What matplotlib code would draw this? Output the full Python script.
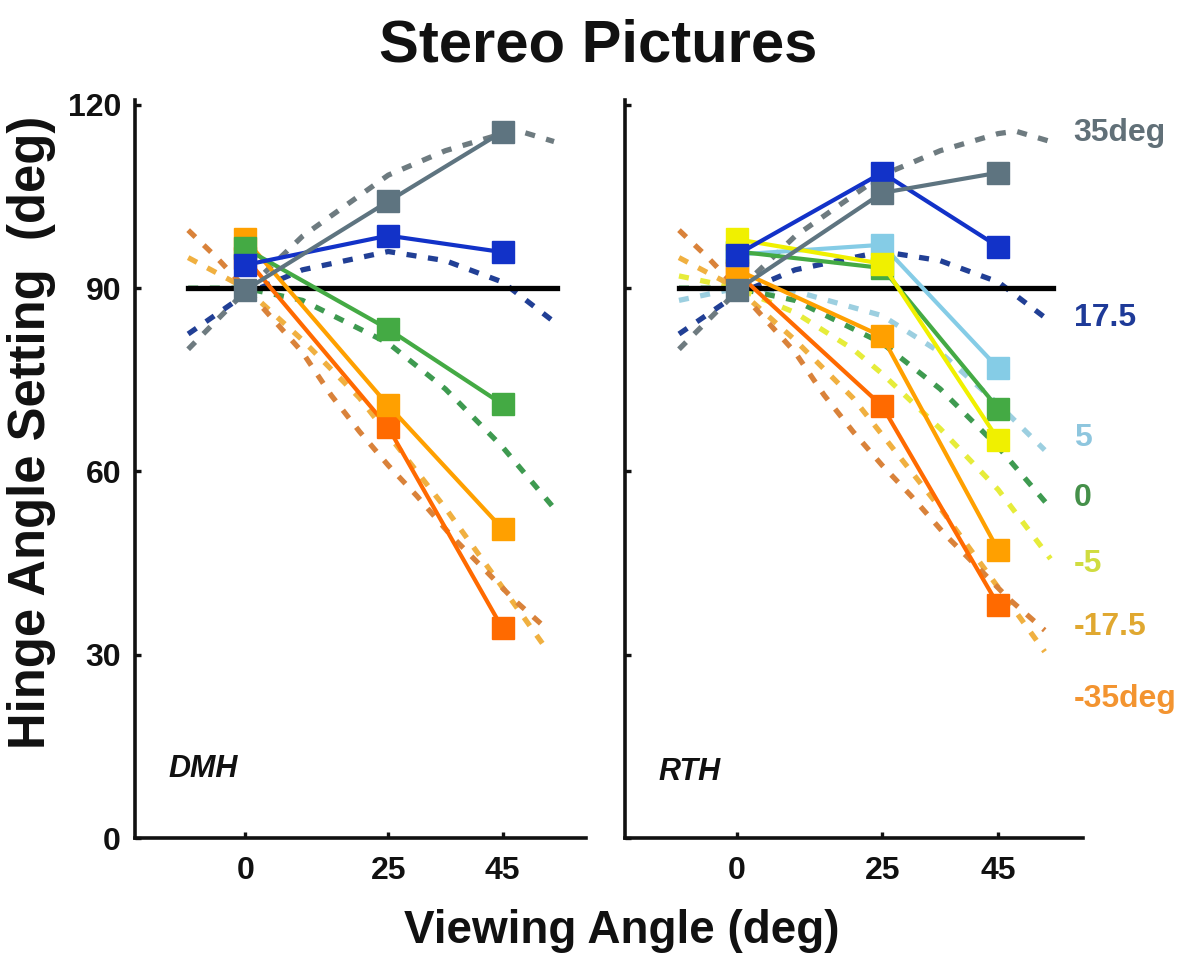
import matplotlib
matplotlib.use("Agg")
import matplotlib.pyplot as plt

plt.rcParams['font.family'] = ['Liberation Sans', 'DejaVu Sans']
plt.rcParams['font.weight'] = 'bold'

# ---------------- data ----------------
view_angles = [0, 25, 45]

# DMH observed settings (solid lines)
dmh_35 = [89.7, 104.2, 115.6]
dmh_17 = [93.8, 98.6, 95.9]
dmh_0 = [96.5, 83.3, 71.0]
dmh_m17 = [98.0, 70.8, 50.6]
dmh_m35 = [95.0, 67.2, 34.3]

# RTH observed settings (solid lines)
rth_35 = [89.7, 105.6, 108.9]
rth_17 = [95.5, 108.9, 96.8]
rth_5 = [95.5, 97.1, 76.9]
rth_0 = [96.0, 93.3, 70.3]
rth_m5 = [98.0, 94.0, 65.2]
rth_m17 = [93.0, 82.1, 47.1]
rth_m35 = [92.5, 70.7, 38.1]

# model predictions (dashed curves)
pred_35_x = [-10, 0, 10, 25, 35, 45, 48, 54]
pred_35_y = [80, 89.5, 98.5, 108.5, 112.5, 115.3, 115.7, 114]
pred_17_x = [-10, 0, 10, 25, 35, 45, 54]
pred_17_y = [82.5, 89, 93, 96, 94.5, 91, 84.5]
pred_5_x = [-10, 0, 10, 17.5, 25, 35, 45, 53]
pred_5_y = [88, 90, 89.5, 87.5, 85.5, 79.5, 71, 63.5]
pred_0_x = [-10, 0, 10, 25, 35, 45, 54]
pred_0_y = [90, 90, 88, 81, 73.5, 64, 54]
pred_m5_x = [-10, 0, 10, 20, 25, 35, 45, 54]
pred_m5_y = [92, 90, 86, 80, 76, 67, 57, 45.7]
pred_m17_x = [-10, 0, 10, 20, 25, 30, 35, 40, 45, 53]
pred_m17_y = [95, 90, 81.5, 72, 66, 60, 54, 47.5, 41, 30.5]
pred_m35_x = [-10, -5, 0, 10, 15, 20, 25, 30, 36, 42, 47, 53]
pred_m35_y = [99.5, 95, 90, 79.5, 72.5, 66.5, 61, 56, 49.5, 43.8, 39, 34]

ref_x = [-10, 54.5]
ref_y = [90, 90]

label_texts = ['35deg', '17.5', '5', '0', '-5', '-17.5', '-35deg']
label_y = [115.4, 85.1, 65.4, 55.6, 44.9, 34.6, 22.8]
label_colors = ['#617078', '#1E3A98', '#8EC6DE', '#45904A', '#D0DC40', '#E0A830', '#F39430']

yticks = [0, 30, 60, 90, 120]
xticks = [0, 25, 45]

# ---------------- colours ----------------
c_gray, c_blue, c_lblue = '#5E7480', '#1232C8', '#85CCE6'
c_green, c_yellow, c_orange, c_dorange = '#44AA44', '#F0F000', '#FFA000', '#FF6A00'
d_gray, d_blue, d_lblue = '#6E7B80', '#213F95', '#9CCFE0'
d_green, d_yellow, d_orange, d_dorange = '#3E9A50', '#E6EC3A', '#F0B040', '#D9823A'

fig = plt.figure(figsize=(11.95, 9.56), dpi=100)
W, H = 1195, 956
ax1 = fig.add_axes([135 / W, 1 - 838 / H, 451 / W, 738 / H])
ax2 = fig.add_axes([625 / W, 1 - 838 / H, 458 / W, 738 / H])

DASH = dict(lw=3.8, linestyle=(0, (1.9, 2.2)), zorder=1, solid_capstyle='butt')
SOLID = dict(lw=3.0, marker='s', markersize=16, zorder=3)


def dashed(ax, x, y, c):
    ax.plot(x, y, color=c, **DASH)


def solid(ax, y, c):
    ax.plot(view_angles, y, color=c, mfc=c, mec=c, **SOLID)


# left panel (DMH)
dashed(ax1, pred_35_x, pred_35_y, d_gray)
dashed(ax1, pred_17_x, pred_17_y, d_blue)
dashed(ax1, pred_0_x, pred_0_y, d_green)
dashed(ax1, pred_m17_x, pred_m17_y, d_orange)
dashed(ax1, pred_m35_x, pred_m35_y, d_dorange)
ax1.plot(ref_x, ref_y, color='black', lw=3.8, zorder=2)
solid(ax1, dmh_m35, c_dorange)
solid(ax1, dmh_m17, c_orange)
solid(ax1, dmh_0, c_green)
solid(ax1, dmh_17, c_blue)
solid(ax1, dmh_35, c_gray)

# right panel (RTH)
dashed(ax2, pred_35_x, pred_35_y, d_gray)
dashed(ax2, pred_17_x, pred_17_y, d_blue)
dashed(ax2, pred_5_x, pred_5_y, d_lblue)
dashed(ax2, pred_0_x, pred_0_y, d_green)
dashed(ax2, pred_m5_x, pred_m5_y, d_yellow)
dashed(ax2, pred_m17_x, pred_m17_y, d_orange)
dashed(ax2, pred_m35_x, pred_m35_y, d_dorange)
ax2.plot(ref_x, ref_y, color='black', lw=3.8, zorder=2)
solid(ax2, rth_m35, c_dorange)
solid(ax2, rth_m17, c_orange)
solid(ax2, rth_5, c_lblue)
solid(ax2, rth_0, c_green)
solid(ax2, rth_m5, c_yellow)
solid(ax2, rth_17, c_blue)
solid(ax2, rth_35, c_gray)

for ax in (ax1, ax2):
    ax.set_xlim(-19.3, 59.6)
    ax.set_ylim(0, 120.8)
    ax.set_xticks(xticks)
    ax.set_yticks(yticks)
    ax.spines['top'].set_visible(False)
    ax.spines['right'].set_visible(False)
    for s in ('left', 'bottom'):
        ax.spines[s].set_linewidth(2.6)
        ax.spines[s].set_color('#111111')
    ax.tick_params(direction='in', length=4, width=2.4, labelsize=23, pad=13,
                   colors='#111111')
    for lab in ax.get_xticklabels() + ax.get_yticklabels():
        lab.set_fontweight('bold')
    ax.set_facecolor('none')

ax2.tick_params(labelleft=False)
ax1.tick_params(axis='y', pad=10)

ax1.text(-13.4, 11.3, 'DMH', fontsize=22, fontweight='bold', fontstyle='italic',
         color='#111111', va='center', ha='left')
ax2.text(-13.5, 10.8, 'RTH', fontsize=22, fontweight='bold', fontstyle='italic',
         color='#111111', va='center', ha='left')

for t, yv, c in zip(label_texts, label_y, label_colors):
    ax2.text(58.0, yv, t, fontsize=23, fontweight='bold', color=c,
             va='center', ha='left', clip_on=False)

fig.text(598 / W, 1 - 62 / H, 'Stereo Pictures', fontsize=43, fontweight='bold',
         ha='center', va='baseline', color='#111111')
fig.text(622 / W, 1 - 943 / H, 'Viewing Angle (deg)', fontsize=33, fontweight='bold',
         ha='center', va='baseline', color='#111111')
fig.text(32 / W, 1 - 432 / H, 'Hinge Angle Setting  (deg)', fontsize=36.5,
         fontweight='bold', rotation=90, ha='center', va='center', color='#111111')

fig.savefig('out.png', dpi=100, facecolor='white')
